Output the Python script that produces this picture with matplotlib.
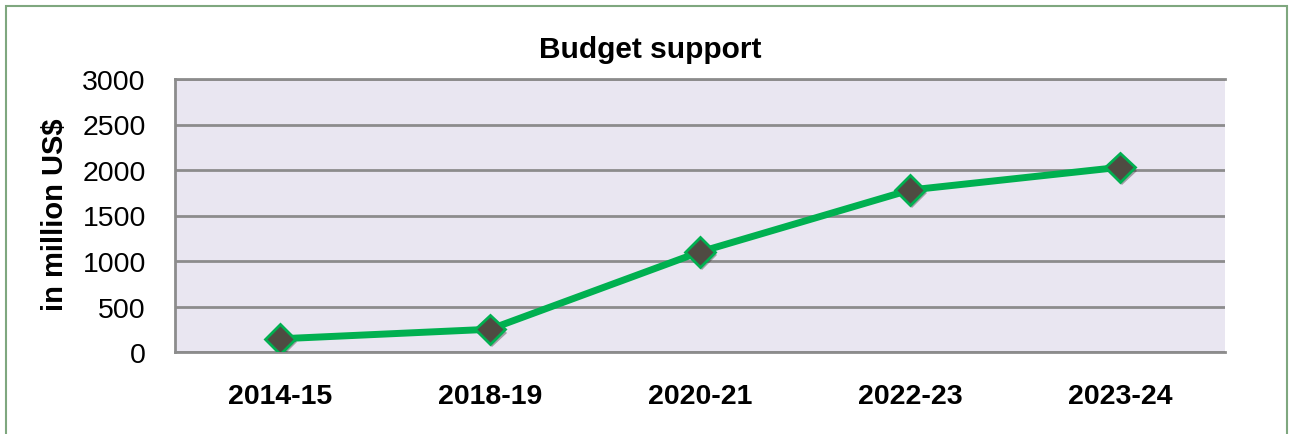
import matplotlib.pyplot as plt
from matplotlib.patches import Rectangle
import matplotlib.patheffects as pe

plt.rcParams['font.family'] = ['Liberation Sans', 'DejaVu Sans']

# данные
years = ['2014-15', '2018-19', '2020-21', '2022-23', '2023-24']
budget = [145, 250, 1100, 1780, 2030]
yticks = [0, 500, 1000, 1500, 2000, 2500, 3000]

fig = plt.figure(figsize=(12.92, 4.35), dpi=100)
ax = fig.add_axes([175 / 1292, 1 - 353 / 435, 1050 / 1292, 273 / 435])

# рамка вокруг графика
fig.patches.append(Rectangle((6 / 1292, -0.1), 1281 / 1292, 1.1 - 7 / 435,
                             transform=fig.transFigure, fill=False,
                             edgecolor='#7FA77F', linewidth=1.5))

ax.set_facecolor('#E9E6F1')
x = range(len(years))
ax.plot(x, budget, color='#00B050', linewidth=5, zorder=3, solid_capstyle='round')
ax.plot(x, budget, linestyle='none', marker='D', markersize=15,
        markerfacecolor='#4F4B42', markeredgecolor='#00B050', markeredgewidth=2,
        zorder=4,
        path_effects=[pe.SimplePatchShadow(offset=(1.5, -2.5), alpha=0.35), pe.Normal()])

ax.set_xlim(-0.5, len(years) - 0.5)
ax.set_ylim(0, 3000)
ax.set_yticks(yticks)
ax.set_xticks(list(x))
ax.set_xticklabels(years, fontweight='bold')
ax.tick_params(axis='both', length=0, labelsize=20.5)
ax.tick_params(axis='x', pad=22)
ax.tick_params(axis='y', pad=21)
ax.yaxis.grid(True, color='#8C8C8C', linewidth=2)
ax.set_axisbelow(True)

for s in ['left', 'bottom', 'top']:
    ax.spines[s].set_color('#8C8C8C')
    ax.spines[s].set_linewidth(2)
ax.spines['right'].set_visible(False)

fig.text(55 / 1292, 1 - 215 / 435, 'in million US$', fontsize=21, fontweight='bold',
         rotation=90, ha='center', va='center')
fig.text(650 / 1292, 1 - 50 / 435, 'Budget support', fontsize=21.5, fontweight='bold',
         ha='center', va='center')

fig.savefig('out.png', dpi=100)
